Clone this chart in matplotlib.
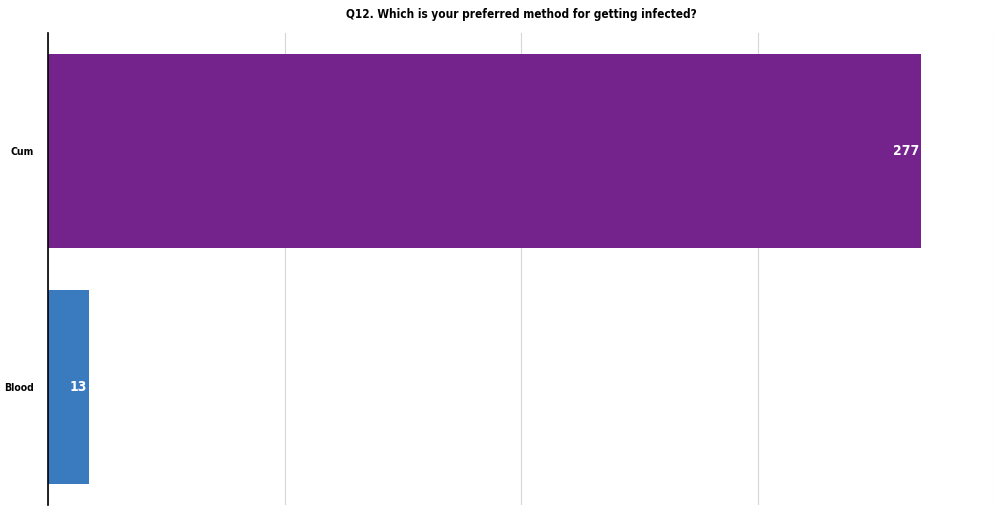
import matplotlib.pyplot as plt

categories = ['Cum', 'Blood']
values = [277, 13]
colors = ['#74238c', '#3a7bbf']
ticks = [0, 75, 150, 225, 300]

plt.rcParams['font.family'] = ['DejaVu Sans']

fig = plt.figure(figsize=(10, 5.12), dpi=100)
ax = fig.add_axes([0.048, 0.0137, 0.946, 0.9218])

ypos = [1, 0]
ax.barh(ypos, values, height=0.826, color=colors, zorder=2)
for y, v in zip(ypos, values):
    ax.text(v - 0.6, y, str(v), ha='right', va='center', color='white',
            fontsize=10, fontweight='bold', fontstretch='condensed', zorder=3)

ax.set_xlim(0, 300)
ax.set_ylim(-0.5, 1.5)
ax.set_xticks(ticks)
ax.set_yticks(ypos)
ax.set_yticklabels(categories, fontsize=7.5, fontweight='bold', fontstretch='condensed')
ax.tick_params(axis='x', length=0, labelbottom=False)
ax.tick_params(axis='y', length=0, pad=10)
ax.grid(axis='x', color='#d6d6d6', linewidth=0.8, zorder=0)
for s in ['top', 'right', 'bottom']:
    ax.spines[s].set_visible(False)
ax.spines['left'].set_color('black')
ax.spines['left'].set_linewidth(1.2)
ax.spines['left'].set_zorder(4)

fig.text(0.5215, 0.972, 'Q12. Which is your preferred method for getting infected?',
         ha='center', va='center', fontsize=8.5, fontweight='bold', fontstretch='condensed')

fig.savefig('out.png', dpi=100)
